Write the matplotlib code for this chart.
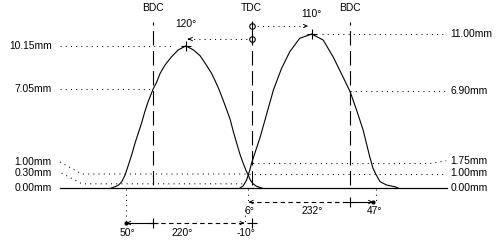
import matplotlib
matplotlib.use('Agg')
import matplotlib.pyplot as plt

plt.rcParams['font.family'] = ['Liberation Sans', 'DejaVu Sans']
plt.rcParams['font.size'] = 7.4

# crank angle in degrees relative to TDC, lift in mm
exh_deg = [-256, -250, -243, -237, -231, -225, -219, -213, -207, -201, -195, -189,
           -180, -173, -167, -158, -146, -134, -120, -106, -94, -82, -73, -67, -60,
           -52, -45, -39, -33, -27, -21, -15, -10, -6, -2, 3, 8, 14, 19]
exh_lift = [0, 0.08, 0.21, 0.45, 0.93, 1.64, 2.36, 3.19, 3.91, 4.62, 5.45, 6.16,
            7.05, 7.59, 8.19, 8.79, 9.38, 9.86, 10.15, 9.86, 9.45, 8.75, 8.19, 7.7, 7.1,
            6.29, 5.55, 4.9, 4.0, 3.19, 2.4, 1.75, 1.25, 0.93, 0.55, 0.3, 0.15, 0.05, 0]

int_deg = [-21, -15, -9, -6, -3, 0, 16, 28, 40, 55, 70, 88, 110, 131, 149, 167,
           180, 192, 204, 216, 222, 227, 235, 247, 262, 268]
int_lift = [0, 0.16, 0.57, 0.93, 1.29, 1.76, 3.66, 5.33, 7.0, 8.55, 9.74, 10.69, 11.0,
            10.57, 9.38, 7.95, 6.90, 5.57, 4.14, 2.24, 1.41, 1.0, 0.45, 0.21, 0.09, 0]

exh_peak = (-120, 10.15)
int_peak = (110, 11.00)
exh_bdc_lift = 7.05
int_bdc_lift = 6.90
exh_open, exh_close = -230, -10
int_open, int_close = -6, 227
exh_dur, int_dur = 220, 232
exh_check = [1.00, 0.30]
int_check = [1.75, 1.00]

k = 'black'
dot = (0, (1, 4))

fig = plt.figure(figsize=(5, 2.4), dpi=100)
ax = fig.add_axes([0, 0, 1, 1])
ax.set_xlim(-459.6, 454.1)
ax.set_ylim(-3.714, 13.43)
ax.axis('off')

# base line
ax.plot([-350, 358], [0, 0], color=k, lw=0.9)

# lobes
ax.plot(exh_deg, exh_lift, color=k, lw=0.8)
ax.plot(int_deg, int_lift, color=k, lw=0.8)

# BDC / TDC / BDC
for xd, name in [(-180, 'BDC'), (0, 'TDC'), (180, 'BDC')]:
    ax.plot([xd, xd], [0.2, 11.86], color=k, lw=0.8, ls=(0, (13, 5)))
    ax.text(xd, 12.86, name, ha='center', va='center')

# peaks
ax.plot(*exh_peak, marker='+', color=k, ms=7, mew=0.8)
ax.plot(*int_peak, marker='+', color=k, ms=7, mew=0.8)
ax.text(exh_peak[0], 11.71, '%d°' % -exh_peak[0], ha='center', va='center')
ax.text(int_peak[0], 12.43, '%d°' % int_peak[0], ha='center', va='center')

# angle-to-peak arrows from TDC
for yy, xe in [(10.64, exh_peak[0] + 4), (11.57, int_peak[0] - 7)]:
    ax.plot([0, xe], [yy, yy], color=k, lw=0.75, ls=dot)
    ax.annotate('', xy=(xe, yy), xytext=(xe + (6 if xe < 0 else -6), yy),
                arrowprops=dict(arrowstyle='->', lw=0.7, color=k, mutation_scale=6))
    ax.plot(0, yy, marker='o', mfc='white', mec=k, ms=4, mew=0.8)
    ax.plot(0, yy, marker='|', color=k, ms=7, mew=0.8)

# lift level lines, left side
ax.plot([-350, exh_peak[0] - 22], [exh_peak[1]] * 2, color=k, lw=0.75, ls=dot)
ax.plot([-350, -180], [exh_bdc_lift] * 2, color=k, lw=0.75, ls=dot)
ax.plot([-350, -310, -7], [1.86, exh_check[0], exh_check[0]], color=k, lw=0.75, ls=dot)
ax.plot([-347, -310, -9], [1.07, exh_check[1], exh_check[1]], color=k, lw=0.75, ls=dot)

# lift level lines, right side
ax.plot([int_peak[0] + 18, 356], [int_peak[1]] * 2, color=k, lw=0.75, ls=dot)
ax.plot([180, 356], [int_bdc_lift] * 2, color=k, lw=0.75, ls=dot)
ax.plot([3, 326, 356], [int_check[0], int_check[0], 1.95], color=k, lw=0.75, ls=dot)
ax.plot([-5, 356], [int_check[1]] * 2, color=k, lw=0.75, ls=dot)

lx, rx = -365, 364
for yy, s in [(10.15, '10.15mm'), (7.05, '7.05mm'), (1.86, '1.00mm'),
              (1.07, '0.30mm'), (0, '0.00mm')]:
    ax.text(lx, yy, s, ha='right', va='center')
for yy, s in [(11.0, '11.00mm'), (6.90, '6.90mm'), (1.93, '1.75mm'),
              (1.07, '1.00mm'), (0, '0.00mm')]:
    ax.text(rx, yy, s, ha='left', va='center')

# duration arrows
ya, yb = -1.0, -2.5
ax.plot([exh_open, exh_open], [-0.1, yb], color=k, lw=0.75, ls=dot)
ax.plot([int_open, int_open], [-0.1, ya], color=k, lw=0.75, ls=dot)
ax.plot([exh_close - 1, exh_close - 1], [ya - 0.6, yb], color=k, lw=0.75, ls=dot)
ax.plot([int_close, int_close], [-0.1, ya], color=k, lw=0.75, ls=dot)

ax.plot([exh_open, -180], [yb, yb], color=k, lw=0.8)
ax.plot([-180, exh_close - 3], [yb, yb], color=k, lw=0.8, ls=(0, (4, 3)))
ax.annotate('', xy=(exh_open + 1, yb), xytext=(exh_open + 10, yb),
            arrowprops=dict(arrowstyle='->', lw=0.7, color=k, mutation_scale=6))
ax.annotate('', xy=(exh_close - 3, yb), xytext=(exh_close - 12, yb),
            arrowprops=dict(arrowstyle='->', lw=0.7, color=k, mutation_scale=6))
ax.plot(exh_open, yb, marker='o', color=k, ms=2)
for xd in (-180, 0):
    ax.plot(xd, yb, marker='+', color=k, ms=7, mew=0.8)

ax.plot([int_open + 1, 180], [ya, ya], color=k, lw=0.8, ls=(0, (4, 3)))
ax.plot([180, int_close - 5], [ya, ya], color=k, lw=0.8)
ax.annotate('', xy=(int_open + 1, ya), xytext=(int_open + 10, ya),
            arrowprops=dict(arrowstyle='->', lw=0.7, color=k, mutation_scale=6))
ax.annotate('', xy=(int_close - 5, ya), xytext=(int_close - 14, ya),
            arrowprops=dict(arrowstyle='->', lw=0.7, color=k, mutation_scale=6))
ax.plot(int_close - 5, ya, marker='o', color=k, ms=2)
ax.plot(180, ya, marker='+', color=k, ms=7, mew=0.8)

ax.text(exh_open + 3, -3.21, '%d°' % (-180 - exh_open), ha='center', va='center')
ax.text(-127, -3.21, '%d°' % exh_dur, ha='center', va='center')
ax.text(exh_close, -3.21, '%d°' % exh_close, ha='center', va='center')
ax.text(int_open + 2, -1.64, '%d°' % -int_open, ha='center', va='center')
ax.text(110, -1.64, '%d°' % int_dur, ha='center', va='center')
ax.text(int_close - 3, -1.64, '%d°' % (int_close - 180), ha='center', va='center')

fig.savefig('out.png', dpi=100, facecolor='white')
